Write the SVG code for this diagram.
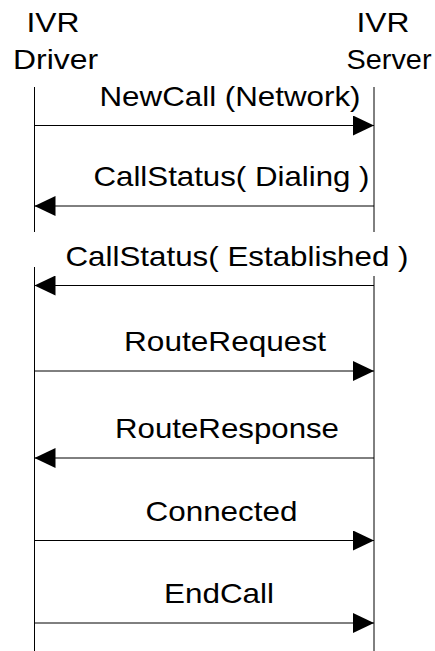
<svg xmlns="http://www.w3.org/2000/svg" width="435" height="651" viewBox="0 0 435 651">
<defs>
<style>
text{font-family:"Liberation Sans",Arial,sans-serif;font-size:28px;fill:#000}
.life{stroke:#000;stroke-width:1;fill:none}
.msg{stroke:#000;stroke-width:1;fill:none;marker-end:url(#ah)}
</style>
<marker id="ah" viewBox="0 0 21 20" refX="21" refY="10" markerWidth="21" markerHeight="20" markerUnits="userSpaceOnUse" orient="auto">
<path d="M0,0 L21,10 L0,20 Z" fill="#000"/>
</marker>
</defs>
<rect width="435" height="651" fill="#fff"/>
<g id="driver">
<text x="26.5" y="31.5" textLength="53" lengthAdjust="spacingAndGlyphs">IVR</text>
<text x="13" y="69" textLength="85" lengthAdjust="spacingAndGlyphs">Driver</text>
<path class="life" d="M34.5,87 V232 M34.5,267 V651"/>
</g>
<g id="server">
<text x="356.5" y="31.5" textLength="53" lengthAdjust="spacingAndGlyphs">IVR</text>
<text x="346.5" y="69" textLength="85" lengthAdjust="spacingAndGlyphs">Server</text>
<path class="life" d="M374,87 V232 M374,276 V651"/>
</g>
<g id="connectors">
<path class="msg" d="M34.5,125.5 H374"/>
<path class="msg" d="M374,206 H34.5"/>
<path class="msg" d="M374,285.5 H34.5"/>
<path class="msg" d="M34.5,371 H374"/>
<path class="msg" d="M374,458 H34.5"/>
<path class="msg" d="M34.5,540.5 H374"/>
<path class="msg" d="M34.5,623 H374"/>
</g>
<g id="labels">
<text x="99.5" y="105.5" textLength="261" lengthAdjust="spacingAndGlyphs">NewCall (Network)</text>
<text x="93.5" y="186" textLength="276" lengthAdjust="spacingAndGlyphs">CallStatus( Dialing )</text>
<text x="65.5" y="265.5" textLength="343" lengthAdjust="spacingAndGlyphs">CallStatus( Established )</text>
<text x="124" y="351" textLength="202" lengthAdjust="spacingAndGlyphs">RouteRequest</text>
<text x="115" y="437.5" textLength="224" lengthAdjust="spacingAndGlyphs">RouteResponse</text>
<text x="145.5" y="520.5" textLength="152" lengthAdjust="spacingAndGlyphs">Connected</text>
<text x="164" y="603" textLength="110" lengthAdjust="spacingAndGlyphs">EndCall</text>
</g>
</svg>
